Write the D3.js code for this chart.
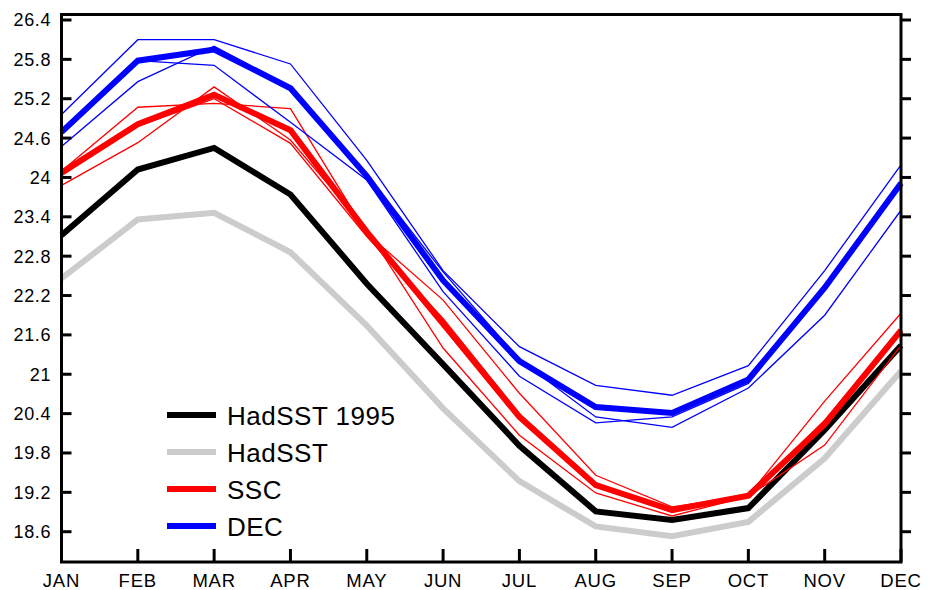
<!DOCTYPE html>
<html>
<head>
<meta charset="utf-8">
<script src="https://cdn.jsdelivr.net/npm/d3@7"></script>
<style>
  body { margin: 0; background: #fff; }
  svg { display: block; font-family: "Liberation Sans", Arial, sans-serif; }
</style>
</head>
<body>
<svg id="chart" width="935" height="590"></svg>
<script>
const months = ["JAN","FEB","MAR","APR","MAY","JUN","JUL","AUG","SEP","OCT","NOV","DEC"];
const yTicks = [18.6, 19.2, 19.8, 20.4, 21, 21.6, 22.2, 22.8, 23.4, 24, 24.6, 25.2, 25.8, 26.4];

const hadsst1995 = [23.12, 24.12, 24.45, 23.74, 22.38, 21.15, 19.91, 18.91, 18.78, 18.96, 20.15, 21.44];
const hadsst     = [22.46, 23.36, 23.46, 22.86, 21.74, 20.48, 19.37, 18.68, 18.53, 18.75, 19.72, 21.05];
const ssc        = [24.07, 24.81, 25.26, 24.72, 23.17, 21.77, 20.35, 19.31, 18.93, 19.15, 20.24, 21.67];
const dec        = [24.69, 25.78, 25.95, 25.36, 24.02, 22.43, 21.20, 20.50, 20.41, 20.92, 22.32, 23.91];

const sscMembers = [
  [24.10, 25.07, 25.13, 25.05, 23.15, 22.13, 20.71, 19.46, 18.98, 19.15, 20.59, 21.93],
  [23.88, 24.53, 25.38, 24.57, 23.20, 21.40, 20.07, 19.19, 18.84, 19.14, 19.92, 21.44],
  [24.05, 24.78, 25.20, 24.52, 23.10, 21.85, 20.40, 19.35, 18.90, 19.16, 20.30, 21.70]
];
const decMembers = [
  [24.96, 26.10, 26.10, 25.73, 24.26, 22.58, 21.42, 20.83, 20.68, 21.13, 22.58, 24.19],
  [24.47, 25.46, 26.00, 25.38, 24.05, 22.56, 21.22, 20.35, 20.19, 20.79, 21.90, 23.50],
  [24.70, 25.78, 25.71, 24.84, 23.96, 22.26, 20.97, 20.26, 20.35, 20.86, 22.35, 23.95]
];

const legendNames = ["HadSST 1995", "HadSST", "SSC", "DEC"];
const colors = { black: "#000000", gray: "#cccccc", red: "#ff0000", blue: "#0000ff" };

const svg = d3.select("#chart");
const pLeft = 61.5, pRight = 901, pTop = 14.5, pBottom = 562;

const x = d3.scalePoint().domain(months).range([pLeft, pRight]);
const y = d3.scaleLinear().domain([18.6, 26.4]).range([531.7, 20]);

const line = d3.line()
  .x((d, i) => x(months[i]))
  .y(d => y(d));

const plot = svg.append("g");

plot.append("path").datum(hadsst).attr("d", line)
  .attr("fill", "none").attr("stroke", colors.gray).attr("stroke-width", 6);
plot.append("path").datum(hadsst1995).attr("d", line)
  .attr("fill", "none").attr("stroke", colors.black).attr("stroke-width", 6);

sscMembers.forEach(s => {
  plot.append("path").datum(s).attr("d", line)
    .attr("fill", "none").attr("stroke", colors.red).attr("stroke-width", 1.3);
});
plot.append("path").datum(ssc).attr("d", line)
  .attr("fill", "none").attr("stroke", colors.red).attr("stroke-width", 6);

decMembers.forEach(s => {
  plot.append("path").datum(s).attr("d", line)
    .attr("fill", "none").attr("stroke", colors.blue).attr("stroke-width", 1.3);
});
plot.append("path").datum(dec).attr("d", line)
  .attr("fill", "none").attr("stroke", colors.blue).attr("stroke-width", 6);

// Frame
svg.append("rect")
  .attr("x", pLeft).attr("y", pTop)
  .attr("width", pRight - pLeft).attr("height", pBottom - pTop)
  .attr("fill", "none").attr("stroke", "#000").attr("stroke-width", 3);

// Left axis ticks (inward) and labels
const yAxisL = svg.append("g");
yAxisL.selectAll("line").data(yTicks).join("line")
  .attr("x1", pLeft).attr("x2", pLeft + 10)
  .attr("y1", d => y(d)).attr("y2", d => y(d))
  .attr("stroke", "#000").attr("stroke-width", 3);
yAxisL.selectAll("text").data(yTicks).join("text")
  .attr("x", 51).attr("y", d => y(d))
  .attr("dy", "0.36em")
  .attr("text-anchor", "end")
  .attr("font-size", 18)
  .attr("letter-spacing", 0.6)
  .attr("fill", "#000")
  .text(d => d3.format("~g")(d));

// Right axis ticks (outward)
svg.append("g").selectAll("line").data(yTicks).join("line")
  .attr("x1", pRight).attr("x2", pRight + 10)
  .attr("y1", d => y(d)).attr("y2", d => y(d))
  .attr("stroke", "#000").attr("stroke-width", 3);

// Bottom ticks (inward) and labels
const xAxis = svg.append("g");
xAxis.selectAll("line").data(months).join("line")
  .attr("x1", d => x(d)).attr("x2", d => x(d))
  .attr("y1", pBottom).attr("y2", pBottom - 13)
  .attr("stroke", "#000").attr("stroke-width", 3);
xAxis.selectAll("text").data(months).join("text")
  .attr("x", d => x(d)).attr("y", 587)
  .attr("text-anchor", "middle")
  .attr("font-size", 18.5)
  .attr("letter-spacing", 0.8)
  .attr("fill", "#000")
  .text(d => d);

// Legend
const legendColors = [colors.black, colors.gray, colors.red, colors.blue];
const lg = svg.append("g");
legendNames.forEach((name, i) => {
  const cy = 415 + i * 37;
  lg.append("line")
    .attr("x1", 167).attr("x2", 216)
    .attr("y1", cy).attr("y2", cy)
    .attr("stroke", legendColors[i]).attr("stroke-width", 6);
  lg.append("text")
    .attr("x", 227).attr("y", cy + 9.5)
    .attr("font-size", 26)
    .attr("letter-spacing", 0.5)
    .attr("fill", "#000")
    .text(name);
});
</script>
</body>
</html>
